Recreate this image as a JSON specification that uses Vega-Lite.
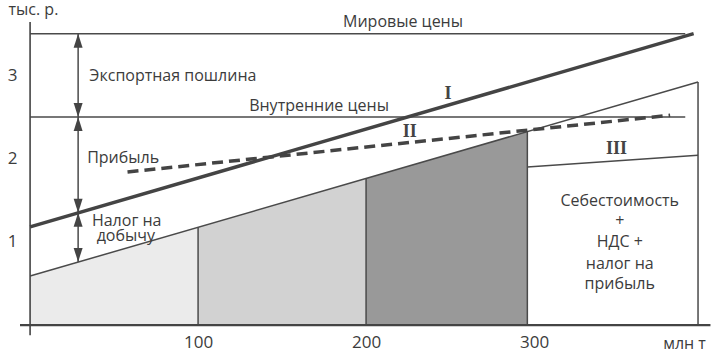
{
  "$schema": "https://vega.github.io/schema/vega-lite/v6.json",
  "width": 695.5,
  "height": 320.7,
  "autosize": {"type": "none"},
  "padding": {"left": 20, "top": 17, "right": 2.5, "bottom": 16.3},
  "background": "white",
  "config": {
    "view": {"stroke": null},
    "font": "Open Sans",
    "axis": {"grid": false, "domain": false, "ticks": false, "labelColor": "#3c3c3c", "labelFontSize": 17, "titleColor": "#3c3c3c", "titleFontSize": 16, "titleFontWeight": "normal", "labelFont": "Open Sans", "titleFont": "Open Sans"}
  },
  "datasets": {
    "bands": [
      {"band": "a", "x": 0, "y": 0.59},
      {"band": "a", "x": 100, "y": 1.176},
      {"band": "b", "x": 100, "y": 1.176},
      {"band": "b", "x": 200, "y": 1.762},
      {"band": "c", "x": 200, "y": 1.762},
      {"band": "c", "x": 296, "y": 2.325}
    ],
    "lines": [
      {"series": "lower", "x": 0, "y": 0.59},
      {"series": "lower", "x": 397.6, "y": 2.92},
      {"series": "III", "x": 296, "y": 1.9},
      {"series": "III", "x": 397.6, "y": 2.04},
      {"series": "world", "x": 0, "y": 3.5},
      {"series": "world", "x": 390, "y": 3.5},
      {"series": "domestic", "x": 0, "y": 2.5},
      {"series": "domestic", "x": 390, "y": 2.5},
      {"series": "I", "x": 0, "y": 1.18},
      {"series": "I", "x": 395, "y": 3.5},
      {"series": "II", "x": 58, "y": 1.84},
      {"series": "II", "x": 381, "y": 2.52}
    ],
    "vrules": [
      {"x": 100, "y": 0, "y2": 1.176},
      {"x": 200, "y": 0, "y2": 1.762},
      {"x": 296, "y": 0, "y2": 2.325},
      {"x": 397.6, "y": 0, "y2": 2.92},
      {"x": 28.6, "y": 0.76, "y2": 3.5}
    ],
    "yaxisline": [{"x": 0, "y": -0.12, "y2": 3.64}],
    "xaxisline": [{"x": -6, "x2": 405, "y": 0}],
    "heads": [
      {"dir": "up", "x": 28.6, "y": 3.5},
      {"dir": "down", "x": 28.6, "y": 2.5},
      {"dir": "up", "x": 28.6, "y": 2.5},
      {"dir": "down", "x": 28.6, "y": 1.35},
      {"dir": "up", "x": 28.6, "y": 1.35},
      {"dir": "down", "x": 28.6, "y": 0.76}
    ],
    "labels": [
      {"label": "Мировые цены", "x": 222, "y": 3.58},
      {"label": "Экспортная пошлина", "x": 85, "y": 2.93},
      {"label": "Внутренние цены", "x": 172, "y": 2.57},
      {"label": "Прибыль", "x": 55.4, "y": 1.945},
      {"label": "Налог на", "x": 57.5, "y": 1.19},
      {"label": "добычу", "x": 57, "y": 1.01},
      {"label": "Себестоимость", "x": 351, "y": 1.43},
      {"label": "+", "x": 351, "y": 1.19},
      {"label": "НДС +", "x": 351, "y": 0.94},
      {"label": "налог на", "x": 351, "y": 0.67},
      {"label": "прибыль", "x": 351, "y": 0.43}
    ],
    "romans": [
      {"label": "I", "x": 248.8, "y": 2.71},
      {"label": "II", "x": 226, "y": 2.26},
      {"label": "III", "x": 349, "y": 2.06}
    ]
  },
  "layer": [
    {
      "data": {"name": "bands"},
      "mark": {"type": "area", "stroke": null, "opacity": 1},
      "encoding": {
        "x": {"field": "x", "type": "quantitative", "scale": {"domain": [-6, 408], "nice": false, "zero": false},
              "axis": {"values": [100, 200, 300], "format": "d", "labelPadding": -3, "title": "млн т", "titleX": 664, "titleY": 11, "titleAlign": "center", "titleBaseline": "alphabetic", "titleAnchor": "start"}},
        "y": {"field": "y", "type": "quantitative", "stack": null, "scale": {"domain": [-0.15, 3.7], "nice": false, "zero": false},
              "axis": {"values": [1, 2, 3], "format": "d", "labelPadding": 3, "title": "тыс. р.", "titleAngle": 0, "titleX": -12, "titleY": -3, "titleAlign": "left", "titleBaseline": "alphabetic", "titleAnchor": "start"}},
        "y2": {"datum": 0},
        "color": {"field": "band", "type": "nominal", "scale": {"domain": ["a", "b", "c"], "range": ["#ebebeb", "#d2d2d2", "#999999"]}, "legend": null}
      }
    },
    {
      "data": {"name": "vrules"},
      "mark": {"type": "rule", "color": "#4a4a4a", "strokeWidth": 1.5},
      "encoding": {
        "x": {"field": "x", "type": "quantitative"},
        "y": {"field": "y", "type": "quantitative"},
        "y2": {"field": "y2"}
      }
    },
    {
      "data": {"name": "lines"},
      "transform": [{"filter": "datum.series == 'lower' || datum.series == 'III' || datum.series == 'world' || datum.series == 'domestic'"}],
      "mark": {"type": "line", "color": "#4a4a4a", "strokeWidth": 1.5},
      "encoding": {
        "x": {"field": "x", "type": "quantitative"},
        "y": {"field": "y", "type": "quantitative"},
        "detail": {"field": "series"}
      }
    },
    {
      "data": {"name": "lines"},
      "transform": [{"filter": "datum.series == 'I'"}],
      "mark": {"type": "line", "color": "#444444", "strokeWidth": 3.5},
      "encoding": {
        "x": {"field": "x", "type": "quantitative"},
        "y": {"field": "y", "type": "quantitative"}
      }
    },
    {
      "data": {"name": "lines"},
      "transform": [{"filter": "datum.series == 'II'"}],
      "mark": {"type": "line", "color": "#444444", "strokeWidth": 3.5, "strokeDash": [11, 6]},
      "encoding": {
        "x": {"field": "x", "type": "quantitative"},
        "y": {"field": "y", "type": "quantitative"}
      }
    },
    {
      "data": {"name": "yaxisline"},
      "mark": {"type": "rule", "color": "#444444", "strokeWidth": 1.6},
      "encoding": {
        "x": {"field": "x", "type": "quantitative"},
        "y": {"field": "y", "type": "quantitative"},
        "y2": {"field": "y2"}
      }
    },
    {
      "data": {"name": "xaxisline"},
      "mark": {"type": "rule", "color": "#444444", "strokeWidth": 2.2},
      "encoding": {
        "x": {"field": "x", "type": "quantitative"},
        "x2": {"field": "x2"},
        "y": {"field": "y", "type": "quantitative"}
      }
    },
    {
      "data": {"name": "heads"},
      "transform": [{"filter": "datum.dir == 'up'"}],
      "mark": {"type": "point", "filled": true, "shape": "M0,0L-0.32,1L0.32,1Z", "size": 784, "color": "#444444", "opacity": 1},
      "encoding": {
        "x": {"field": "x", "type": "quantitative"},
        "y": {"field": "y", "type": "quantitative"}
      }
    },
    {
      "data": {"name": "heads"},
      "transform": [{"filter": "datum.dir == 'down'"}],
      "mark": {"type": "point", "filled": true, "shape": "M0,0L-0.32,-1L0.32,-1Z", "size": 784, "color": "#444444", "opacity": 1},
      "encoding": {
        "x": {"field": "x", "type": "quantitative"},
        "y": {"field": "y", "type": "quantitative"}
      }
    },
    {
      "data": {"name": "labels"},
      "mark": {"type": "text", "font": "Open Sans", "fontSize": 16, "color": "#3c3c3c", "align": "center", "baseline": "alphabetic"},
      "encoding": {
        "x": {"field": "x", "type": "quantitative"},
        "y": {"field": "y", "type": "quantitative"},
        "text": {"field": "label"}
      }
    },
    {
      "data": {"name": "romans"},
      "mark": {"type": "text", "font": "Liberation Serif", "fontWeight": "bold", "fontSize": 18, "color": "#444444", "align": "center", "baseline": "alphabetic"},
      "encoding": {
        "x": {"field": "x", "type": "quantitative"},
        "y": {"field": "y", "type": "quantitative"},
        "text": {"field": "label"}
      }
    }
  ]
}
